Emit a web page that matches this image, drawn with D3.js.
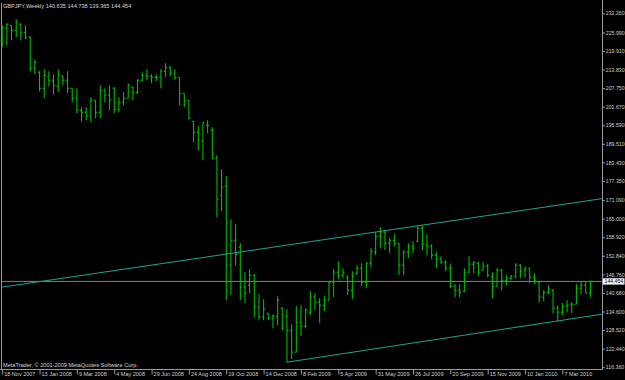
<!DOCTYPE html>
<meta charset="utf-8">
<script src="https://d3js.org/d3.v7.min.js"></script>
<style>
  body { margin: 0; background: #000; }
  text { font-family: "Liberation Sans", Arial, sans-serif; }
</style>
<div id="chart"></div>
<script>
// weekly GBPJPY bars, first bar is the week of 18 Nov 2007
const firstWeek = new Date(2007, 10, 18);

const open = [
  223.42,227.35,228.33,226.70,228.66,226.04,224.41,214.26,212.95,207.71,
  211.64,210.33,208.36,211.64,210.33,207.71,204.43,200.51,199.85,198.54,
  203.78,199.85,207.05,205.42,207.71,200.83,203.13,204.43,208.04,206.40,
  210.33,211.96,211.64,211.31,211.31,213.27,214.58,212.62,211.31,206.07,
  203.78,196.90,193.30,190.36,195.59,193.96,184.79,172.68,175.62,149.76,
  157.94,155.65,142.56,143.21,146.48,136.01,132.73,134.04,132.41,133.06,
  135.68,133.06,128.48,121.28,131.10,129.79,134.37,139.28,137.65,136.66,
  138.30,144.19,147.47,146.48,145.50,141.57,147.14,148.78,144.19,150.41,
  154.02,159.25,160.56,156.96,157.94,156.96,149.76,154.02,155.98,157.62,
  161.87,156.63,155.98,153.03,151.72,150.74,148.78,142.88,141.57,141.25,
  147.47,150.09,150.41,148.12,149.43,145.83,142.88,148.12,144.85,145.50,
  146.16,149.76,148.12,148.78,145.83,144.19,139.28,140.92,141.57,135.68,
  134.37,136.34,136.66,136.99,142.23,143.21,140.635
];
const high = [
  228.33,228.99,228.33,230.30,228.99,228.33,224.73,217.20,213.27,213.93,
  213.27,212.29,213.93,211.96,213.27,207.71,207.71,201.49,201.49,204.76,
  203.78,208.69,207.71,208.69,208.04,204.76,206.40,209.35,208.04,210.66,
  212.95,213.93,212.29,212.29,213.93,215.89,214.91,213.93,211.31,206.07,
  203.78,196.90,195.27,196.58,197.23,194.94,185.77,181.19,178.90,164.82,
  163.18,156.96,147.47,148.45,146.81,140.26,138.63,134.04,133.72,139.61,
  136.01,135.35,130.44,136.34,136.66,135.68,141.25,140.59,138.95,139.61,
  144.52,148.45,151.07,148.78,146.48,147.79,149.76,150.41,150.74,155.32,
  160.56,162.20,161.22,158.60,159.91,156.96,154.67,156.96,157.62,162.53,
  162.85,159.91,156.63,154.02,152.71,151.40,150.09,143.54,143.54,148.78,
  152.71,151.07,150.74,150.74,150.09,147.47,148.78,148.45,146.48,146.48,
  150.41,150.09,149.10,148.78,147.14,144.52,141.57,143.21,141.90,136.66,
  137.32,138.30,137.65,143.54,144.52,144.52,144.738
];
const low = [
  221.13,221.79,223.42,224.41,223.42,223.75,213.27,212.29,206.73,204.43,
  208.36,205.74,206.40,208.69,206.07,203.13,199.52,196.90,197.23,196.58,
  197.89,197.89,203.13,200.51,199.52,199.85,202.14,204.43,203.78,205.74,
  210.00,210.33,209.35,210.00,207.71,211.31,211.64,210.33,202.14,201.49,
  197.56,190.03,187.41,184.14,192.98,184.46,165.47,167.44,138.30,139.94,
  149.76,138.30,137.32,140.59,132.73,131.75,131.75,131.75,129.13,130.11,
  128.48,118.00,118.98,121.28,126.51,129.13,133.39,135.03,130.77,134.70,
  138.30,139.28,145.18,145.50,139.94,138.63,146.48,142.88,142.23,149.10,
  153.03,155.32,154.67,153.69,155.98,146.48,146.48,152.05,153.69,157.29,
  154.67,153.03,151.72,148.78,150.09,147.79,142.23,139.28,139.28,140.92,
  147.14,147.14,146.16,148.12,145.83,138.95,142.88,141.57,143.21,144.85,
  145.50,145.50,145.83,143.87,143.54,137.65,137.97,140.26,134.04,131.42,
  133.39,134.37,134.04,136.99,140.26,140.59,139.365
];
const close = [
  227.68,228.66,226.70,229.32,226.04,224.41,214.26,216.22,207.71,211.96,
  210.33,208.69,212.29,210.33,207.71,204.43,200.51,199.85,198.54,203.78,
  199.85,207.05,205.42,203.78,200.83,203.13,204.43,208.69,206.40,210.33,
  211.96,211.64,211.31,211.31,213.27,214.58,212.62,211.31,206.07,203.78,
  197.89,193.30,190.68,196.58,195.59,186.43,171.37,175.30,149.76,157.94,
  153.36,142.56,140.59,146.48,136.01,132.73,135.35,132.41,133.06,138.30,
  129.13,128.48,121.28,131.10,129.79,135.03,139.28,137.65,136.66,138.30,
  144.19,147.47,146.48,147.47,141.57,146.16,148.78,144.19,150.41,154.34,
  159.25,160.56,156.96,157.94,156.96,149.76,154.02,155.98,155.32,161.87,
  156.63,155.98,153.03,151.72,150.74,148.78,142.88,141.57,140.92,147.47,
  150.09,150.74,147.47,149.43,146.48,142.88,148.12,144.85,145.50,146.16,
  149.76,147.79,148.78,145.83,144.85,139.28,140.92,142.23,135.68,134.37,
  136.34,136.66,136.99,142.23,143.21,140.59,144.454
];

// price scale labels on the right
const priceTicks = [232.260,225.990,219.910,213.830,207.750,201.670,195.590,189.510,183.430,
  177.350,171.090,165.000,158.920,152.840,146.760,140.680,134.600,128.520,122.440,116.360];

// date labels along the bottom
const dateTicks = ["18 Nov 2007","13 Jan 2008","9 Mar 2008","4 May 2008","29 Jun 2008",
  "24 Aug 2008","19 Oct 2008","14 Dec 2008","8 Feb 2009","5 Apr 2009","31 May 2009",
  "26 Jul 2009","20 Sep 2009","15 Nov 2009","10 Jan 2010","7 Mar 2010"];

// channel lines (two anchor points each, drawn as rays to the right)
const upperLine = [["2007-11-18", 142.58], ["2010-04-18", 171.00]];
const lowerLine = [["2009-01-18", 118.00], ["2010-04-18", 133.14]];

const W = 625, H = 380;
const plotRight = 602.5, plotBottom = 369.5;

const svg = d3.select("#chart").append("svg")
  .attr("width", W).attr("height", H)
  .style("background", "#000")
  .style("display", "block");

const dates = open.map((d, i) => d3.timeWeek.offset(firstWeek, i));
const bars = dates.map((d, i) => ({date: d, o: open[i], h: high[i], l: low[i], c: close[i]}));

const x = d3.scaleTime()
  .domain([dates[0], dates[dates.length - 1]])
  .range([2.2, 590.4]);
const y = d3.scaleLinear()
  .domain([116.36, 232.26])
  .range([367.2, 13.3]);

const parseDay = d3.timeParse("%Y-%m-%d");
const parseLabel = d3.timeParse("%d %b %Y");

// left frame line
svg.append("line").attr("x1", 1.5).attr("x2", 1.5).attr("y1", 3).attr("y2", plotBottom)
  .attr("stroke", "#9a9a9a");

// bid line
const last = bars[bars.length - 1];
svg.append("line")
  .attr("x1", 2).attr("x2", plotRight)
  .attr("y1", y(last.c)).attr("y2", y(last.c))
  .attr("stroke", "#6f8493").attr("stroke-width", 1);

// OHLC bars
const barColor = "#00cc00";
const g = svg.append("g").attr("stroke", barColor).attr("stroke-width", 1);
g.selectAll(".hl").data(bars).join("line")
  .attr("x1", d => x(d.date)).attr("x2", d => x(d.date))
  .attr("y1", d => y(d.h)).attr("y2", d => y(d.l));
g.selectAll(".op").data(bars).join("line")
  .attr("x1", d => x(d.date) - 1.6).attr("x2", d => x(d.date))
  .attr("y1", d => y(d.o)).attr("y2", d => y(d.o));
g.selectAll(".cl").data(bars).join("line")
  .attr("x1", d => x(d.date)).attr("x2", d => x(d.date) + 1.6)
  .attr("y1", d => y(d.c)).attr("y2", d => y(d.c));

// channel rays, clipped at the price scale
function drawRay(pts) {
  const x1 = x(parseDay(pts[0][0])), y1 = y(pts[0][1]);
  const x2 = x(parseDay(pts[1][0])), y2 = y(pts[1][1]);
  const slope = (y2 - y1) / (x2 - x1);
  svg.append("line")
    .attr("x1", x1).attr("y1", y1)
    .attr("x2", plotRight).attr("y2", y1 + slope * (plotRight - x1))
    .attr("stroke", "#1fa593").attr("stroke-width", 1);
}
drawRay(upperLine);
drawRay(lowerLine);

// right price axis
const yAxis = svg.append("g")
  .attr("transform", "translate(" + plotRight + ",0)")
  .call(d3.axisRight(y).tickValues(priceTicks).tickFormat(d3.format(".3f")).tickSize(2.5).tickPadding(0.8));
yAxis.select(".domain").remove();
svg.append("line").attr("x1", plotRight).attr("x2", plotRight).attr("y1", 0).attr("y2", plotBottom)
  .attr("stroke", "#9a9a9a");
yAxis.selectAll("line").attr("stroke", "#9a9a9a");
yAxis.selectAll("text").attr("fill", "#d0d0d0").style("font-size", "5.2px");

// bottom date axis
svg.append("line").attr("x1", 0).attr("x2", plotRight).attr("y1", plotBottom).attr("y2", plotBottom)
  .attr("stroke", "#9a9a9a");
const xAxis = svg.append("g")
  .attr("transform", "translate(0," + plotBottom + ")")
  .call(d3.axisBottom(x).tickValues(dateTicks.map(parseLabel)).tickFormat(d3.timeFormat("%-d %b %Y")).tickSize(5));
xAxis.select(".domain").remove();
xAxis.selectAll("line").attr("stroke", "#9a9a9a");
xAxis.selectAll("text")
  .attr("fill", "#d0d0d0").style("font-size", "5.5px")
  .attr("text-anchor", "start").attr("x", 1.5).attr("y", 3).attr("dy", "0.71em");

// current price box
svg.append("rect")
  .attr("x", plotRight + 0.5).attr("y", y(last.c) - 3.2)
  .attr("width", 21.5).attr("height", 6.4).attr("fill", "#f4f4f4");
svg.append("text")
  .attr("x", plotRight + 2).attr("y", y(last.c)).attr("dy", "0.35em")
  .attr("fill", "#000").style("font-size", "5.2px")
  .text(d3.format(".3f")(last.c));

// title and footer
svg.append("text").attr("x", 3).attr("y", 8.3)
  .attr("fill", "#d8d8d8").style("font-size", "5.6px")
  .text("GBPJPY,Weekly  " + [last.o, last.h, last.l, last.c].map(d3.format(".3f")).join(" "));
svg.append("text").attr("x", 3).attr("y", 366.5)
  .attr("fill", "#d8d8d8").style("font-size", "5.6px")
  .text("MetaTrader, © 2001-2009 MetaQuotes Software Corp.");
</script>
